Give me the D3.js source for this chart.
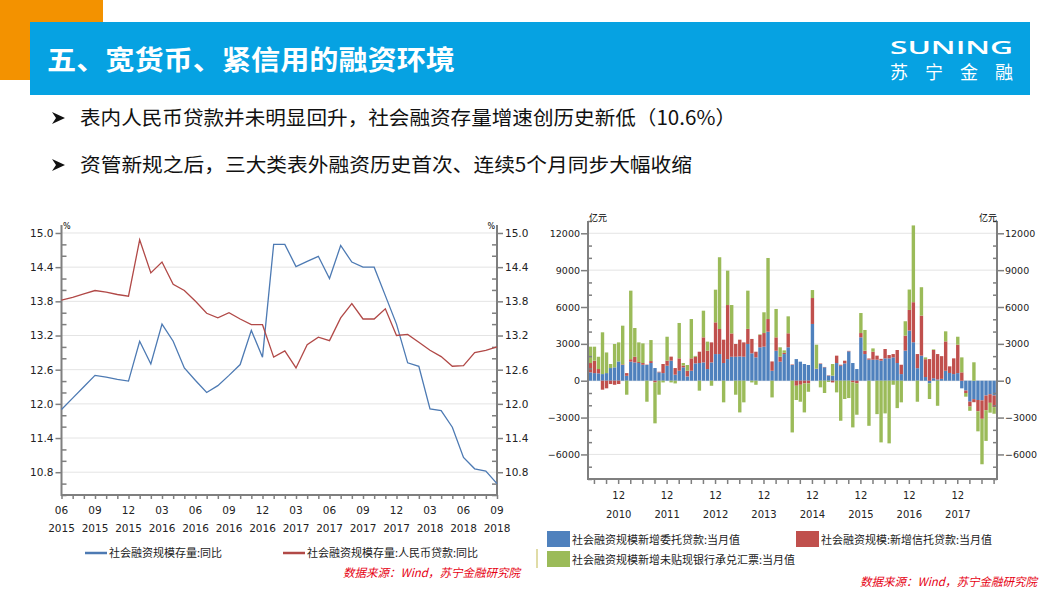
<!DOCTYPE html>
<html><head><meta charset="utf-8">
<script src="https://cdn.jsdelivr.net/npm/d3@7"></script>
<style>
body{margin:0;background:#fff;}
svg{display:block;}
</style></head><body>
<svg id="c" width="1058" height="593"></svg>
<script>
// ---------------- DATA ----------------
const titleText = "五、宽货币、紧信用的融资环境";
const bullets = ["表内人民币贷款并未明显回升，社会融资存量增速创历史新低（10.6%）",
                 "资管新规之后，三大类表外融资历史首次、连续5个月同步大幅收缩"];
const sourceText = "数据来源：Wind，苏宁金融研究院";

// Left chart: monthly Jun 2015 - Sep 2018 (%)
const lineStart = new Date(2015, 5, 1), lineEnd = new Date(2018, 8, 1);
const tsfStockYoY = [11.9,12.1,12.3,12.5,12.47,12.43,12.4,13.1,12.7,13.4,
  13.1,12.63,12.41,12.2,12.32,12.5,12.69,13.29,12.82,14.8,
  14.8,14.41,14.5,14.59,14.2,14.78,14.49,14.4,14.4,13.9,
  13.4,12.72,12.66,11.91,11.88,11.59,11.06,10.86,10.82,10.6];
const loanStockYoY = [13.82,13.87,13.93,13.99,13.96,13.92,13.89,14.88,14.3,14.49,
  14.1,13.99,13.8,13.59,13.51,13.6,13.49,13.39,13.39,12.82,
  12.93,12.63,13.04,13.17,13.11,13.51,13.76,13.49,13.49,13.67,
  13.2,13.22,13.08,12.94,12.83,12.66,12.67,12.9,12.94,13.0];
const lineNames = ["社会融资规模存量:同比","社会融资规模存量:人民币贷款:同比"];
const leftYTicks = [10.8,11.4,12.0,12.6,13.2,13.8,14.4,15.0];

// Right chart: monthly May 2010 - Sep 2018 (亿元)
const barStart = new Date(2010, 4, 1), barEnd = new Date(2018, 8, 1);
const entrusted = [680,620,600,540,620,1030,1090,1570,1280,400,
  1550,1490,1440,1300,1280,1440,1030,680,620,1220,
  1630,490,810,1090,350,810,1410,1440,1490,950,
  1490,2170,2170,1440,1760,1950,1950,1980,1950,2990,
  2230,1900,2720,2770,3990,810,2440,1550,2170,2720,
  1280,1760,1550,1360,1280,4620,950,1360,1090,410,
  410,1440,1220,1410,2390,1440,950,3530,2170,1710,
  1710,1710,1630,1820,1820,1900,1440,540,2450,4080,
  3130,1020,2040,300,-220,200,100,150,810,630,
  540,620,-620,-800,-1700,-1500,-1570,-1600,-1200,-1100,
  -1200];
const trust = [760,1010,350,-730,-620,-270,-330,-270,50,220,
  200,460,80,140,30,160,-140,50,740,410,
  330,540,1010,140,460,1010,540,920,2040,1490,
  1630,2580,2040,1900,4400,1900,1040,1360,1170,1230,
  1170,460,1000,1110,1030,760,1090,410,100,1140,
  40,-410,-330,-220,-220,2110,30,40,30,30,
  -140,600,80,220,40,-140,-220,350,270,100,
  650,330,150,760,270,270,1060,760,1220,1680,
  3260,1150,3260,1450,1760,2300,2070,1850,2390,540,
  1280,2310,680,-200,-400,-250,-920,-1500,-1200,-700,
  -950];
const bills = [1330,1140,1000,3400,1680,330,1900,1550,3150,-1140,
  5580,2340,1600,1600,-1710,1710,-3330,-1140,-140,1950,
  -140,-220,2880,210,470,3200,70,-810,2170,740,
  -410,2660,5840,-1760,2800,2310,-1140,-2580,-1760,3110,
  -140,-330,50,1690,4970,-1360,2310,760,200,1380,
  -4210,-1160,-1380,-2360,-680,650,1950,-540,-1000,-100,
  950,-950,-3260,-1490,-1410,-3660,-2550,1630,1690,-3670,
  270,-2720,-5020,-2660,-5100,-330,-2230,-1760,1170,1660,
  6250,-1710,2310,150,-1270,50,-2040,0,820,0,
  0,650,1220,-300,-350,1500,-1630,-3700,-2500,-800,
  -540];
const barNames = ["社会融资规模新增委托贷款:当月值","社会融资规模:新增信托贷款:当月值","社会融资规模新增未贴现银行承兑汇票:当月值"];
const rightYTicks = [-6000,-3000,0,3000,6000,9000,12000];

// ---------------- DRAW ----------------
const svg = d3.select("#c");
const axisCol = "#7f7f7f", gridCol = "#e4e4e4", txtCol = "#222";
const cBlue = "#4f81bd", cRed = "#c0504d", cGreen = "#9bbb59";
const lBlue = "#4d7ab3", lRed = "#b14947";
svg.append("rect").attr("width",1058).attr("height",593).attr("fill","#fff");

// header
svg.append("rect").attr("x",0).attr("y",0).attr("width",103).attr("height",80).attr("fill","#f39200");
svg.append("rect").attr("x",30).attr("y",22).attr("width",1000).attr("height",73).attr("fill","#06a2e2");
svg.append("text").attr("x",47).attr("y",70).text(titleText)
  .attr("fill","#fff").attr("font-family","Noto Sans CJK SC").attr("font-weight",700)
  .attr("font-size",27).attr("textLength",408).attr("lengthAdjust","spacingAndGlyphs");
svg.append("text").attr("x",890).attr("y",54).text("SUNING")
  .attr("fill","#fff").attr("font-family","Open Sans").attr("font-weight",600)
  .attr("font-size",18).attr("textLength",123).attr("lengthAdjust","spacingAndGlyphs");
svg.append("text").attr("x",890).attr("y",79).text("苏宁金融")
  .attr("fill","#fff").attr("font-family","Noto Sans CJK SC").attr("font-weight",400)
  .attr("font-size",18).attr("textLength",123).attr("lengthAdjust","spacing");

// bullets (arrowhead marker + text)
const bl = [[125,656],[172,612]];
bullets.forEach((t,i)=>{
  const cy = bl[i][0]-7;
  svg.append("path")
    .attr("d",`M52,${cy-6} L65,${cy} L52,${cy+6} L56,${cy} Z`)
    .attr("fill","#111");
  svg.append("text").attr("x",80).attr("y",bl[i][0]).text(t)
    .attr("font-family","Noto Sans CJK SC").attr("font-size",19.5).attr("fill","#111")
    .attr("textLength",bl[i][1]).attr("lengthAdjust","spacingAndGlyphs");
});

function styleAxis(g){
  g.select(".domain").remove();
  g.selectAll(".tick line").attr("stroke",axisCol).attr("stroke-width",1.5);
  g.selectAll(".tick text").attr("fill",txtCol);
}

// ---------- Left line chart ----------
const lineMonths = d3.timeMonth.range(lineStart, d3.timeMonth.offset(lineEnd,1));
const L = {x0:61.5, x1:497, yb:495, yt:225};
const xL = d3.scalePoint().domain(lineMonths.map(d=>+d)).range([L.x0,L.x1]);
const yL = d3.scaleLinear().domain([10.4,15.14]).range([L.yb,L.yt]);
const gL = svg.append("g");
gL.selectAll(".grid").data(leftYTicks).join("line")
  .attr("x1",L.x0).attr("x2",L.x1).attr("y1",d=>yL(d)).attr("y2",d=>yL(d))
  .attr("stroke",gridCol).attr("stroke-width",1);
const leftMinor = d3.range(10.4,15.11,0.2).map(v=>+v.toFixed(1)).filter(v=>!leftYTicks.includes(v));
gL.append("g").attr("transform",`translate(${L.x0},0)`)
  .call(d3.axisRight(yL).tickValues(leftMinor).tickSize(5).tickFormat("")).call(styleAxis);
gL.append("g").attr("transform",`translate(${L.x1},0)`)
  .call(d3.axisLeft(yL).tickValues(leftMinor).tickSize(5).tickFormat("")).call(styleAxis);
gL.append("g").attr("transform",`translate(${L.x0},0)`)
  .call(d3.axisLeft(yL).tickValues(leftYTicks).tickSize(6).tickPadding(2).tickFormat(d3.format(".1f")))
  .call(styleAxis).selectAll("text").attr("font-family","DejaVu Sans").attr("font-size",10.5);
gL.append("g").attr("transform",`translate(${L.x1},0)`)
  .call(d3.axisRight(yL).tickValues(leftYTicks).tickSize(6).tickPadding(2).tickFormat(d3.format(".1f")))
  .call(styleAxis).selectAll("text").attr("font-family","DejaVu Sans").attr("font-size",10.5);
gL.append("g").attr("transform",`translate(0,${L.yb})`)
  .call(d3.axisBottom(xL).tickValues(lineMonths.map(d=>+d)).tickSize(4).tickFormat(""))
  .call(styleAxis);
const qMonths = lineMonths.filter((d,i)=>i%3===0);
const lbl = gL.append("g").selectAll("g").data(qMonths).join("g")
  .attr("transform",d=>`translate(${xL(+d)},0)`);
lbl.append("text").attr("y",514).attr("text-anchor","middle").text(d3.timeFormat("%m"))
  .attr("font-family","DejaVu Sans").attr("font-size",10.5).attr("fill",txtCol);
lbl.append("text").attr("y",532).attr("text-anchor","middle").text(d3.timeFormat("%Y"))
  .attr("font-family","DejaVu Sans").attr("font-size",10.5).attr("fill",txtCol);
gL.append("line").attr("x1",L.x0).attr("x2",L.x0).attr("y1",L.yt).attr("y2",L.yb+1).attr("stroke",axisCol).attr("stroke-width",2);
gL.append("line").attr("x1",L.x1).attr("x2",L.x1).attr("y1",L.yt).attr("y2",L.yb+1).attr("stroke",axisCol).attr("stroke-width",2);
gL.append("line").attr("x1",L.x0).attr("x2",L.x1).attr("y1",L.yb).attr("y2",L.yb).attr("stroke",axisCol).attr("stroke-width",2);
gL.append("text").attr("x",63).attr("y",229).text("%").attr("font-family","DejaVu Sans").attr("font-size",8).attr("fill","#000");
gL.append("text").attr("x",495).attr("y",229).attr("text-anchor","end").text("%").attr("font-family","DejaVu Sans").attr("font-size",8).attr("fill","#000");
const lineGen = d3.line().x((d,i)=>xL(+lineMonths[i])).y(d=>yL(d));
[[tsfStockYoY,lBlue],[loanStockYoY,lRed]].forEach(([s,c])=>{
  gL.append("path").datum(s).attr("d",lineGen).attr("fill","none").attr("stroke",c).attr("stroke-width",1.3);
});
[[85,lBlue,lineNames[0]],[283,lRed,lineNames[1]]].forEach(([x,c,t])=>{
  gL.append("line").attr("x1",x).attr("x2",x+22).attr("y1",553).attr("y2",553).attr("stroke",c).attr("stroke-width",2.5);
  gL.append("text").attr("x",x+24).attr("y",557).text(t).attr("font-family","Noto Sans CJK SC").attr("font-size",11).attr("fill",txtCol);
});
svg.append("text").attr("x",520).attr("y",577).attr("text-anchor","end").text(sourceText)
  .attr("font-family","Noto Sans CJK SC").attr("font-size",11.5).attr("font-style","italic").attr("fill","#e60012");

// ---------- Right stacked bar chart ----------
const barMonths = d3.timeMonth.range(barStart, d3.timeMonth.offset(barEnd,1));
const R = {x0:588, x1:997, yb:479, yt:221};
const keys = ["entrusted","trust","bills"];
const table = barMonths.map((m,i)=>({m:+m, entrusted:entrusted[i], trust:trust[i], bills:bills[i]}));
const series = d3.stack().keys(keys).offset(d3.stackOffsetDiverging)(table);
const xR = d3.scaleBand().domain(table.map(d=>d.m)).range([R.x0+0.5,R.x1-1]).paddingInner(0.16).paddingOuter(0.05);
const yR = d3.scaleLinear().domain([-8000,13000]).range([R.yb,R.yt]);
const gR = svg.append("g");
gR.selectAll(".grid").data(rightYTicks).join("line")
  .attr("x1",R.x0).attr("x2",R.x1).attr("y1",d=>yR(d)).attr("y2",d=>yR(d))
  .attr("stroke",gridCol).attr("stroke-width",1);
const colors = {entrusted:cBlue, trust:cRed, bills:cGreen};
gR.selectAll(".s").data(series).join("g").attr("fill",s=>colors[s.key])
  .selectAll("rect").data(s=>s).join("rect")
  .attr("x",d=>xR(d.data.m)).attr("width",xR.bandwidth())
  .attr("y",d=>yR(Math.max(d[0],d[1]))).attr("height",d=>Math.abs(yR(d[0])-yR(d[1])));
const rightMinor = d3.range(-8000,13001,1000).filter(v=>!rightYTicks.includes(v));
gR.append("g").attr("transform",`translate(${R.x0},0)`)
  .call(d3.axisRight(yR).tickValues(rightMinor).tickSize(4).tickFormat("")).call(styleAxis);
gR.append("g").attr("transform",`translate(${R.x1},0)`)
  .call(d3.axisLeft(yR).tickValues(rightMinor).tickSize(4).tickFormat("")).call(styleAxis);
gR.append("g").attr("transform",`translate(${R.x0},0)`)
  .call(d3.axisLeft(yR).tickValues(rightYTicks).tickSize(7).tickPadding(1).tickFormat(d3.format("d")))
  .call(styleAxis).selectAll("text").attr("font-family","DejaVu Sans").attr("font-size",9.5);
gR.append("g").attr("transform",`translate(${R.x1},0)`)
  .call(d3.axisRight(yR).tickValues(rightYTicks).tickSize(7).tickPadding(1).tickFormat(d3.format("d")))
  .call(styleAxis).selectAll("text").attr("font-family","DejaVu Sans").attr("font-size",9.5);
const qBar = table.filter((d,i)=>i%3===1).map(d=>d.m);
gR.append("g").attr("transform",`translate(0,${R.yb})`)
  .call(d3.axisBottom(xR).tickValues(qBar).tickSize(5).tickFormat("")).call(styleAxis);
const decs = table.filter(d=>new Date(d.m).getMonth()===11).map(d=>d.m);
const lb2 = gR.append("g").selectAll("g").data(decs).join("g")
  .attr("transform",d=>`translate(${xR(d)+xR.bandwidth()/2},0)`);
lb2.append("text").attr("y",499).attr("text-anchor","middle").text(d=>d3.timeFormat("%m")(new Date(d)))
  .attr("font-family","DejaVu Sans").attr("font-size",10).attr("fill",txtCol);
lb2.append("text").attr("y",518).attr("text-anchor","middle").text(d=>d3.timeFormat("%Y")(new Date(d)))
  .attr("font-family","DejaVu Sans").attr("font-size",10).attr("fill",txtCol);
gR.append("line").attr("x1",R.x0).attr("x2",R.x0).attr("y1",R.yt).attr("y2",R.yb+1).attr("stroke",axisCol).attr("stroke-width",2);
gR.append("line").attr("x1",R.x1).attr("x2",R.x1).attr("y1",R.yt).attr("y2",R.yb+1).attr("stroke",axisCol).attr("stroke-width",2);
gR.append("line").attr("x1",R.x0).attr("x2",R.x1).attr("y1",R.yb).attr("y2",R.yb).attr("stroke",axisCol).attr("stroke-width",2);
gR.append("text").attr("x",589).attr("y",221).text("亿元").attr("font-family","Noto Sans CJK SC").attr("font-size",9).attr("fill","#000");
gR.append("text").attr("x",997).attr("y",221).attr("text-anchor","end").text("亿元").attr("font-family","Noto Sans CJK SC").attr("font-size",9).attr("fill","#000");
[[547,531,cBlue,barNames[0]],[796,531,cRed,barNames[1]],[547,551,cGreen,barNames[2]]].forEach(([x,y,c,t])=>{
  gR.append("rect").attr("x",x).attr("y",y).attr("width",23).attr("height",16).attr("fill",c);
  gR.append("text").attr("x",x+25).attr("y",y+12.5).text(t).attr("font-family","Noto Sans CJK SC").attr("font-size",11).attr("fill",txtCol);
});
svg.append("line").attr("x1",537).attr("x2",537).attr("y1",549).attr("y2",568).attr("stroke","#d6d08a").attr("stroke-width",1.5);
svg.append("text").attr("x",1037).attr("y",586).attr("text-anchor","end").text(sourceText)
  .attr("font-family","Noto Sans CJK SC").attr("font-size",11.5).attr("font-style","italic").attr("fill","#e60012");
</script>
</body></html>
